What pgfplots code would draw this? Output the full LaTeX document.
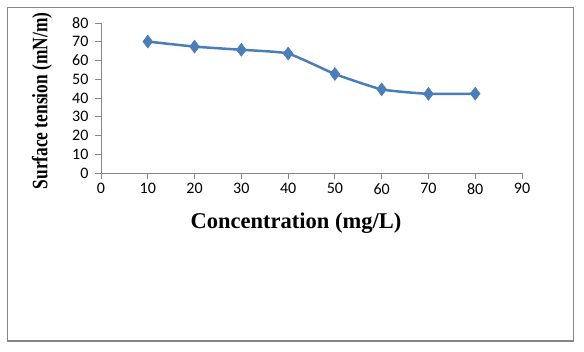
\documentclass[border=0pt]{standalone}
\usepackage{fontspec}
\setmainfont{Liberation Serif}
\newfontfamily\carlito{Carlito}
\usepackage{pgfplots}
\pgfplotsset{compat=1.18}
\definecolor{xlblue}{HTML}{4A7EBB}
\definecolor{axgray}{HTML}{868686}
\begin{document}
\begin{tikzpicture}[x=1pt,y=1pt]
\path[use as bounding box, fill=white] (0,0) rectangle (584,352);
\draw[axgray, line width=1.3pt] (7.5,11) rectangle (573.5,344.5);
\begin{axis}[
  at={(101pt,179pt)}, anchor=origin,
  scale only axis, width=421pt, height=150pt,
  xmin=0, xmax=90, ymin=0, ymax=80,
  axis lines=left,
  axis line style={-, axgray, line width=0.8pt},
  xtick={0,10,...,90}, ytick={0,10,...,80},
  tick align=outside,
  tick style={axgray, line width=0.8pt},
  major tick length=6pt,
  xticklabel={\pgfmathprintnumber[assume math mode=true]{\tick}},
  yticklabel={\pgfmathprintnumber[assume math mode=true]{\tick}},
  ticklabel style={font=\carlito\fontsize{16}{16}\selectfont},
  xticklabel style={yshift=-1pt},
  yticklabel style={xshift=-3pt},
  clip=false,
]
\addplot[xlblue, line width=2.5pt, smooth, tension=0.3, mark=diamond*, mark size=6.5pt,
  mark options={fill=xlblue, draw=xlblue, line width=0.5pt}]
  coordinates {(10,70.1) (20,67.4) (30,65.7) (40,63.7) (50,52.8) (60,44.6) (70,42.2) (80,42.3)};
\end{axis}
\node[font=\bfseries\fontsize{22.5}{22.5}\selectfont] at (296,129) {Concentration (mg/L)};
\node[font=\bfseries\fontsize{22}{22}\selectfont, rotate=90] at (42,251) {\scalebox{0.79}[1]{Surface tension (mN/m)}};
\end{tikzpicture}
\end{document}
